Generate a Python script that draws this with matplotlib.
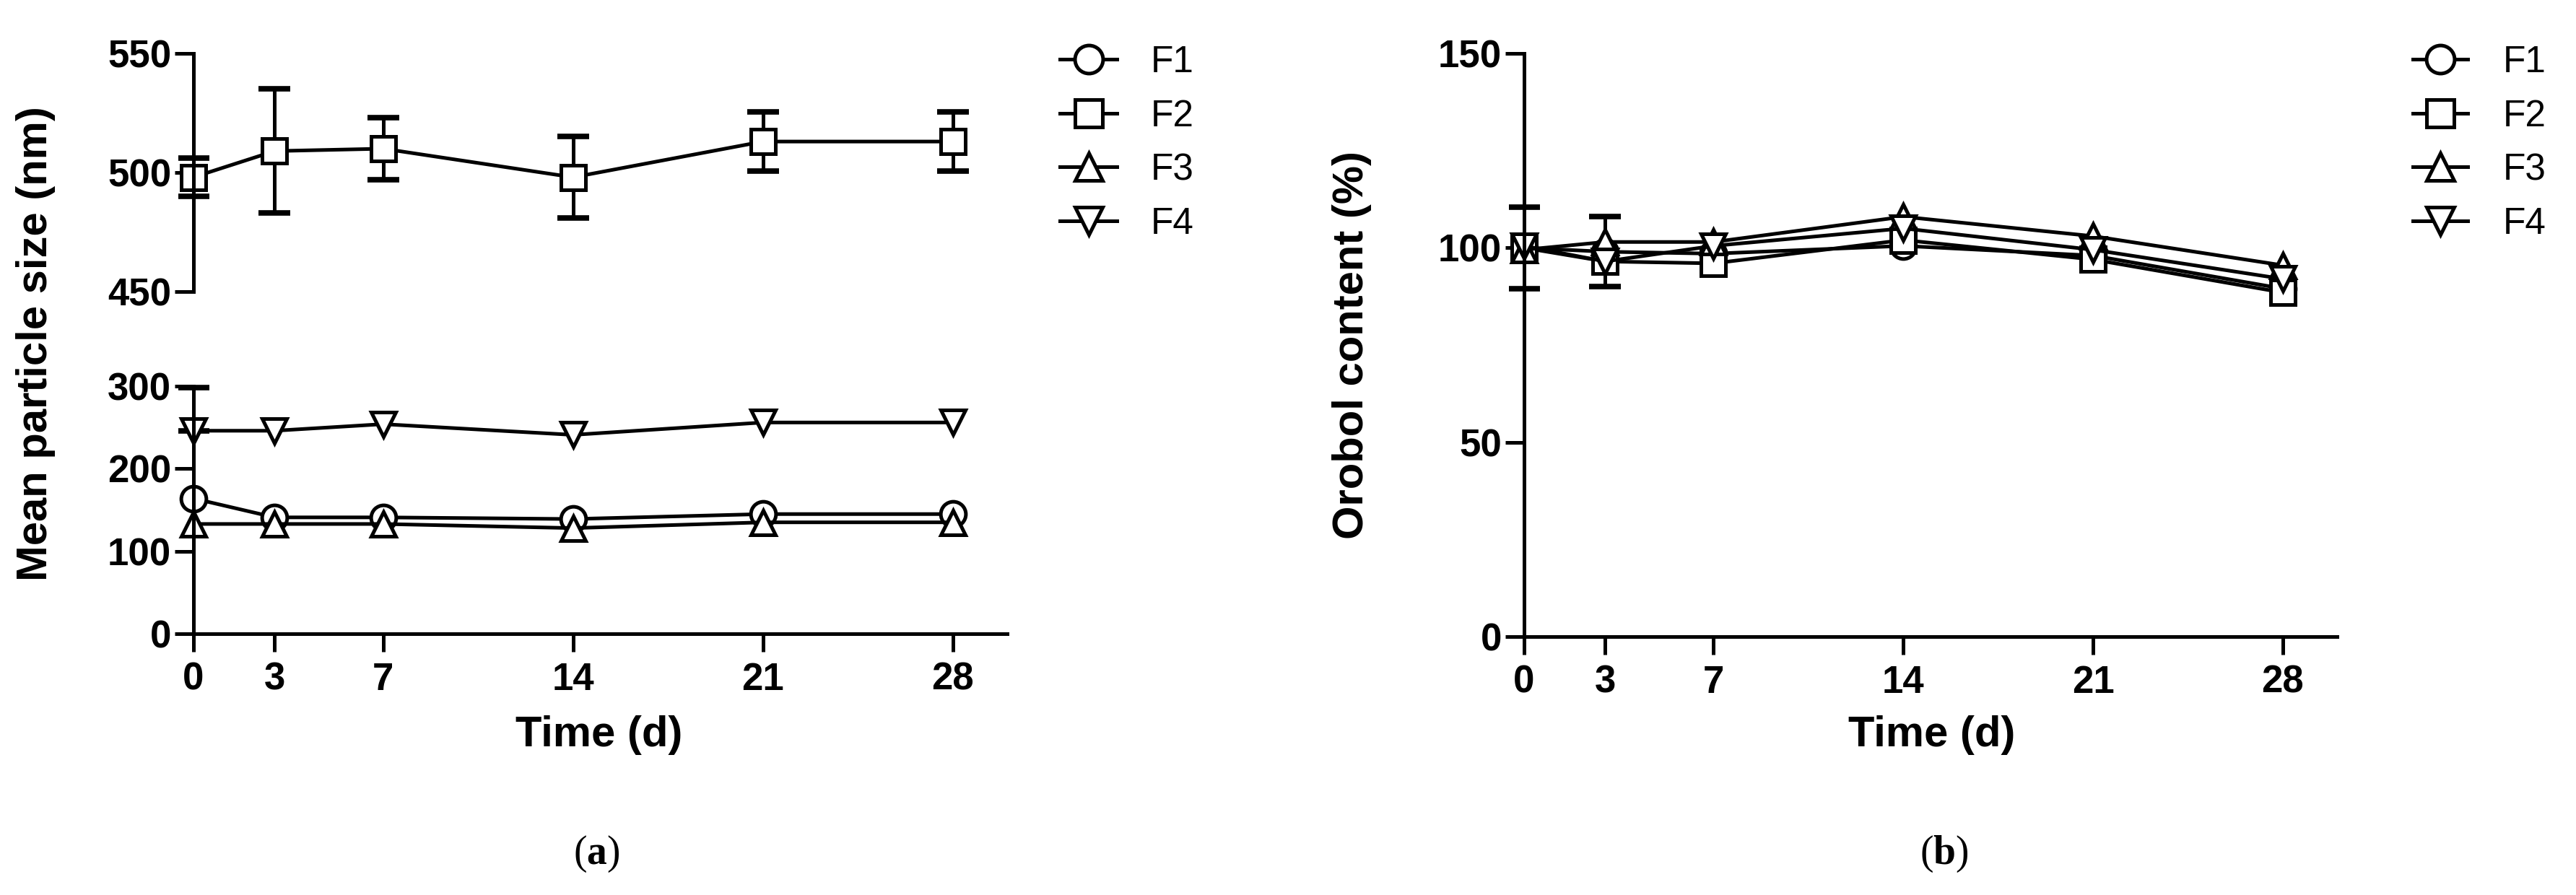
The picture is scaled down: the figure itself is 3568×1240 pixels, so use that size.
import matplotlib
matplotlib.use("Agg")
import matplotlib.pyplot as plt

plt.rcParams["font.family"] = ["Liberation Sans", "DejaVu Sans"]
plt.rcParams["mathtext.fontset"] = "custom"
plt.rcParams["mathtext.rm"] = "Liberation Serif"
plt.rcParams["mathtext.bf"] = "Liberation Serif:bold"

# sampling days
days = [0, 3, 7, 14, 21, 28]
names = ["F1", "F2", "F3", "F4"]
markers = ["o", "s", "^", "v"]

# (a) mean particle size (nm)
size_f1 = [164, 141, 141, 139, 145, 145]
size_f2 = [498, 509, 510, 498, 513, 513]
size_f3 = [133, 133, 133, 128, 135, 135]
size_f4 = [246, 246, 254, 241, 256, 256]
size_f2_err = [8, 26, 13, 17, 12.5, 12.5]
size_f4_err_up = [52, 0, 0, 0, 0, 0]

# (b) orobol content (%)
content_f1 = [100, 99, 98.5, 100.5, 98, 89.5]
content_f2 = [100, 96.5, 96, 102, 97, 88.5]
content_f3 = [99.5, 101.5, 101.5, 108, 103, 95.5]
content_f4 = [100.5, 96.5, 100.5, 105, 99.5, 92]
content_f1_err = [10.5, 9, 0, 0, 0, 0]

W, H = 3568, 1240
fig = plt.figure(figsize=(W / 100, H / 100), dpi=100)


def px_axes(x0, y0, x1, y1):
    # pixel box (origin top-left) -> axes
    return fig.add_axes([x0 / W, 1 - y1 / H, (x1 - x0) / W, (y1 - y0) / H])


def style_axis(ax, show_x=True):
    ax.spines["top"].set_visible(False)
    ax.spines["right"].set_visible(False)
    ax.spines["left"].set_position(("data", 0))
    ax.spines["left"].set_linewidth(3.6)
    ax.spines["bottom"].set_linewidth(3.6)
    ax.set_xlim(-0.55, 30)
    ax.set_xticks(days)
    ax.tick_params(axis="y", width=3.6, length=19, labelsize=38, pad=3)
    ax.tick_params(axis="x", width=3.6, length=18, labelsize=38, pad=10)
    if not show_x:
        ax.spines["bottom"].set_visible(False)
        ax.tick_params(axis="x", bottom=False, labelbottom=False)
    for lab in ax.get_xticklabels() + ax.get_yticklabels():
        lab.set_fontweight("bold")


def nonzero(x, y, up, down=None):
    # keep only the points that really have an error bar
    if down is None:
        down = up
    keep = [i for i in range(len(x)) if up[i] > 0 or down[i] > 0]
    return ([x[i] for i in keep], [y[i] for i in keep],
            [[down[i] for i in keep], [up[i] for i in keep]])


line_kw = dict(color="black", lw=3.6, mfc="white", mec="black", mew=3.6, ms=25)
err_kw = dict(fmt="none", ecolor="black", elinewidth=3.6, capsize=16, capthick=5.5)

# ---- panel (a): broken y axis ----
ax_lo = px_axes(247, 531.6, 1395, 878)
ax_hi = px_axes(247, 74, 1395, 404)

size_series = [size_f1, size_f2, size_f3, size_f4]
handles = []
for ax in (ax_lo, ax_hi):
    ex, ey, ee = nonzero(days, size_f2, size_f2_err)
    ax.errorbar(ex, ey, yerr=ee, **err_kw)
    ex, ey, ee = nonzero(days, size_f4, size_f4_err_up, [0] * len(days))
    ax.errorbar(ex, ey, yerr=ee, **err_kw)
    hs = []
    for vals, m in zip(size_series, markers):
        (h,) = ax.plot(days, vals, marker=m, **line_kw)
        hs.append(h)
    handles = hs

ax_lo.set_ylim(0, 303)
ax_lo.set_yticks([0, 100, 200, 300])
ax_lo.spines["left"].set_bounds(0, 300)
ax_hi.set_ylim(450, 550)
ax_hi.set_yticks([450, 500, 550])
style_axis(ax_lo)
style_axis(ax_hi, show_x=False)

fig.text(50 / W, 1 - 476 / H, "Mean particle size (nm)", rotation=90,
         ha="center", va="center", fontsize=43, fontweight="bold")
fig.text(830 / W, 1 - 1019 / H, "Time (d)", ha="center", va="center",
         fontsize=43, fontweight="bold")

ax_lo.legend(handles, names, loc="upper left", bbox_to_anchor=(1468 / W, 0.95),
             bbox_transform=fig.transFigure, frameon=False, fontsize=37,
             handlelength=1.54, handletextpad=0.9, borderpad=0, borderaxespad=0,
             markerscale=1.12)

# ---- panel (b) ----
ax_b = px_axes(2090, 74, 3237, 882)
content_series = [content_f1, content_f2, content_f3, content_f4]
ex, ey, ee = nonzero(days, content_f1, content_f1_err)
ax_b.errorbar(ex, ey, yerr=ee, **err_kw)
hb = []
for vals, m in zip(content_series, markers):
    (h,) = ax_b.plot(days, vals, marker=m, clip_on=False, **line_kw)
    hb.append(h)
ax_b.set_ylim(0, 150)
ax_b.set_yticks([0, 50, 100, 150])
style_axis(ax_b)

fig.text(1873 / W, 1 - 478 / H, "Orobol content (%)", rotation=90,
         ha="center", va="center", fontsize=43, fontweight="bold")
fig.text(2676 / W, 1 - 1019 / H, "Time (d)", ha="center", va="center",
         fontsize=43, fontweight="bold")

ax_b.legend(hb, names, loc="upper left", bbox_to_anchor=(3342 / W, 0.95),
            bbox_transform=fig.transFigure, frameon=False, fontsize=37,
            handlelength=1.48, handletextpad=0.95, borderpad=0, borderaxespad=0,
            markerscale=1.12)

# panel letters
fig.text(826 / W, 1 - 1183 / H, r"($\mathbf{a}$)", family="Liberation Serif",
         ha="center", va="center", fontsize=40)
fig.text(2693 / W, 1 - 1183 / H, r"($\mathbf{b}$)", family="Liberation Serif",
         ha="center", va="center", fontsize=40)

fig.savefig("out.png", dpi=100)
